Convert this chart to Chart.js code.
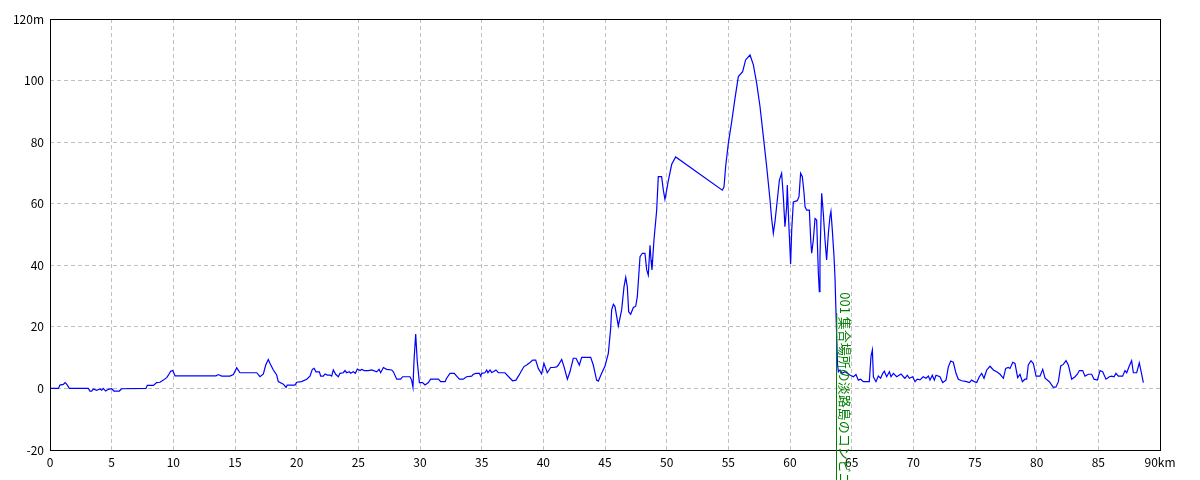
<!DOCTYPE html>
<html>
<head>
<meta charset="utf-8">
<script src="https://cdn.jsdelivr.net/npm/chart.js@4/dist/chart.umd.min.js"></script>
<style>
    body { margin: 0; background: #fff; }
    #wrap { width: 1200px; height: 480px; }
</style>
</head>
<body>
<div id="wrap"><canvas id="perfil"></canvas></div>
<script>
// dados do perfil (distancia em km, altitude em m)
const distancias = [
    0, 0.68, 0.81, 1.08, 1.22, 1.35, 1.57, 3.11, 3.24, 3.38, 3.51, 3.78, 4.05, 4.19, 4.32, 4.51, 4.73, 5.0, 5.19, 5.62, 5.81,
    7.78, 7.89, 8.38, 8.65, 8.92, 9.19, 9.46, 9.6, 9.78, 9.95, 10.14, 13.46, 13.65, 13.92, 14.59, 14.87, 15.14, 15.4, 16.76,
    17.03, 17.3, 17.49, 17.7, 17.84, 18.11, 18.38, 18.51, 18.92, 19.14, 19.24, 19.86, 20.0, 20.4, 20.81, 21.08, 21.27, 21.41,
    21.57, 21.84, 21.95, 22.16, 22.3, 22.49, 22.7, 22.84, 22.97, 23.16, 23.38, 23.51, 23.78, 23.92, 24.05, 24.27, 24.38, 24.59,
    24.76, 24.92, 25.14, 25.27, 25.49, 25.81, 26.08, 26.49, 26.68, 26.81, 27.03, 27.3, 27.7, 27.84, 28.11, 28.43, 28.59, 29.19,
    29.32, 29.43, 29.51, 29.65, 29.78, 29.95, 30.21, 30.41, 30.68, 30.86, 31.49, 31.68, 32.03, 32.16, 32.43, 32.78, 32.97,
    33.19, 33.51, 33.78, 34.19, 34.32, 34.54, 34.81, 34.92, 35.0, 35.27, 35.41, 35.51, 35.68, 35.81, 35.95, 36.16, 36.35,
    36.89, 37.3, 37.51, 37.78, 38.03, 38.24, 38.43, 38.65, 38.92, 39.14, 39.38, 39.59, 39.86, 40.05, 40.32, 40.59, 40.81,
    41.08, 41.22, 41.49, 41.68, 41.95, 42.16, 42.43, 42.65, 42.92, 43.11, 43.84, 44.05, 44.32, 44.46, 44.73, 45.0, 45.27,
    45.46, 45.54, 45.68, 45.81, 46.08, 46.35, 46.54, 46.68, 46.81, 46.92, 47.08, 47.3, 47.49, 47.62, 47.84, 48.03, 48.24,
    48.38, 48.51, 48.65, 48.73, 48.81, 48.97, 49.19, 49.32, 49.59, 49.73, 49.86, 50.0, 50.14, 50.41, 50.73, 54.51, 54.65,
    54.78, 55.0, 55.27, 55.54, 55.81, 56.16, 56.4, 56.76, 57.03, 57.3, 57.57, 57.84, 58.11, 58.38, 58.51, 58.65, 58.78,
    58.97, 59.14, 59.32, 59.46, 59.59, 59.73, 59.78, 59.89, 60.0, 60.05, 60.14, 60.27, 60.59, 60.73, 60.86, 61.0, 61.14,
    61.22, 61.35, 61.57, 61.68, 61.76, 61.89, 62.03, 62.16, 62.3, 62.38, 62.43, 62.57, 62.7, 62.84, 62.97, 63.11, 63.24,
    63.32, 63.43, 63.57, 63.65, 63.73, 63.78, 63.85, 63.92, 64.05, 64.2, 64.46, 64.86, 65.14, 65.35, 65.54, 65.73, 65.95,
    66.43, 66.57, 66.68, 66.76, 66.97, 67.16, 67.35, 67.52, 67.65, 67.84, 68.06, 68.19, 68.38, 68.65, 69.0, 69.19, 69.32,
    69.51, 69.68, 69.95, 70.14, 70.32, 70.54, 70.8, 71.03, 71.22, 71.35, 71.54, 71.7, 71.84, 72.16, 72.38, 72.65, 72.84,
    73.03, 73.24, 73.46, 73.65, 73.92, 74.32, 74.54, 74.73, 74.95, 75.14, 75.35, 75.54, 75.73, 75.95, 76.22, 76.49, 76.76,
    77.03, 77.3, 77.49, 77.7, 77.84, 78.06, 78.24, 78.46, 78.65, 78.84, 79.05, 79.19, 79.32, 79.54, 79.73, 79.95, 80.27,
    80.49, 80.68, 81.03, 81.35, 81.57, 81.76, 81.95, 82.16, 82.38, 82.57, 82.84, 83.11, 83.3, 83.46, 83.73, 83.92, 84.19,
    84.46, 84.65, 84.92, 85.14, 85.35, 85.62, 85.89, 86.08, 86.27, 86.43, 86.62, 86.97, 87.16, 87.3, 87.51, 87.7, 87.84,
    88.11, 88.32, 88.51, 88.65
]

const altitudes = [
    0, 0, 1.1, 1.3, 1.9, 1.4, 0, 0, -0.85, -0.85, -0.2, -0.6, -0.2, -0.6, 0, -0.85, -0.3, -0.1, -0.85, -0.85, -0.1,
    0, 1.0, 1.0, 1.9, 2.0, 2.7, 3.5, 4.3, 5.6, 5.8, 4.1, 4.1, 4.5, 4.0, 4.0, 4.5, 6.7, 5.1, 5.1,
    3.8, 4.7, 7.6, 9.4, 8.1, 6.0, 4.35, 2.2, 1.4, 0.35, 1.1, 1.1, 2.0, 2.2, 3.0, 4.0, 6.2, 6.5,
    5.4, 5.4, 4.0, 4.0, 4.7, 4.35, 4.35, 4.0, 6.0, 4.6, 3.8, 4.9, 5.1, 5.8, 5.1, 5.4, 4.9, 5.4,
    4.9, 6.3, 5.8, 6.2, 5.8, 5.8, 6.0, 5.4, 6.2, 5.1, 6.8, 6.2, 6.0, 5.4, 3.0, 3.0, 3.8, 3.8,
    2.7, 0.35, 8.7, 17.7, 8.7, 1.9, 1.9, 1.1, 1.9, 3.0, 3.0, 2.2, 2.2, 3.3, 4.9, 4.9, 4.0,
    3.0, 3.0, 3.8, 4.0, 4.6, 4.9, 4.9, 4.0, 4.9, 5.1, 6.0, 5.1, 6.0, 5.2, 5.4, 6.0, 5.1,
    5.1, 3.3, 2.5, 2.7, 4.3, 5.8, 7.1, 7.6, 8.4, 9.2, 9.2, 6.5, 4.7, 8.1, 5.1, 6.8, 6.8,
    7.0, 7.6, 9.4, 7.0, 3.0, 5.4, 9.8, 9.8, 7.6, 10.1, 10.1, 7.6, 2.7, 2.4, 4.9, 7.3, 11.4,
    19.5, 25.5, 27.3, 26.6, 20.3, 25.5, 33.0, 36.1, 33.0, 24.9, 24.1, 26.3, 26.7, 29.8, 42.8, 43.9, 43.9,
    38.5, 36.8, 46.5, 41.7, 38.5, 48.2, 57.9, 68.8, 68.8, 64.4, 61.4, 64.4, 67.6, 72.8, 75.2, 64.4, 65.5,
    72.0, 79.6, 86.6, 94.2, 101.3, 102.9, 106.7, 108.3, 105.1, 99.1, 91.5, 81.8, 72.0, 61.2, 55.2, 50.4, 54.1,
    61.2, 67.7, 69.9, 62.3, 52.5, 59.0, 66.1, 54.7, 45.0, 40.4, 51.5, 60.6, 61.0, 62.3, 69.9, 68.8, 63.4,
    59.0, 57.9, 57.9, 48.2, 43.9, 48.2, 55.2, 54.7, 37.3, 31.4, 42.8, 63.4, 56.9, 48.2, 41.7, 50.4, 55.8,
    57.5, 51.5, 42.8, 35.7, 24.4, 17.9, 8.0, 5.4, 6.0, 4.9, 5.4, 4.35, 3.8, 4.5, 2.7, 3.0, 2.2,
    2.2, 10.5, 12.5, 3.8, 2.2, 4.0, 3.3, 4.9, 5.6, 3.8, 5.4, 3.8, 4.9, 3.8, 4.7, 3.8, 3.3,
    4.3, 3.3, 3.8, 2.2, 3.0, 2.8, 3.8, 3.3, 4.0, 2.7, 4.3, 2.7, 4.3, 3.8, 1.9, 2.7, 7.0,
    8.9, 8.5, 4.9, 3.0, 2.5, 2.2, 1.9, 2.7, 2.2, 1.9, 3.8, 4.9, 3.3, 6.0, 7.2, 6.0, 5.4,
    4.6, 3.3, 6.5, 6.8, 6.5, 8.5, 8.1, 3.5, 4.6, 2.2, 3.0, 3.0, 7.6, 9.0, 8.1, 4.0, 4.0,
    6.2, 3.3, 2.2, 0.35, 0.5, 2.2, 7.3, 7.8, 9.0, 7.6, 3.0, 3.8, 4.6, 5.8, 5.8, 4.0, 4.6,
    4.6, 3.0, 2.7, 5.8, 5.4, 3.0, 3.8, 4.0, 3.8, 4.9, 4.0, 4.0, 5.8, 5.1, 7.3, 9.0, 5.1,
    5.1, 8.3, 4.7, 1.9
]

// ponto de passagem
const pontoKm = 63.73
const pontoAltitude = 24.4
const pontoNome = '001 集合場所の淡路島のコンビニ'

// rotulos dos eixos
const eixoX = { min: 0, max: 90, passo: 5, unidade: 'km' }
const eixoY = { min: -20, max: 120, passo: 20, unidade: 'm' }

const fonte = "'Noto Sans CJK JP', 'DejaVu Sans', sans-serif"

const pontos = []
for(let i = 0; i < distancias.length; i++){
    pontos.push({ x: distancias[i], y: altitudes[i] })
}

// fundo branco, moldura e marcador do ponto
const extras = {
    id: 'extras',
    beforeDraw(chart){
        const c = chart.ctx
        c.save()
        c.fillStyle = '#ffffff'
        c.fillRect(0, 0, chart.width, chart.height)
        c.restore()
    },
    afterDraw(chart){
        const c = chart.ctx
        const area = chart.chartArea
        const sx = chart.scales.x
        const sy = chart.scales.y

        c.save()
        c.strokeStyle = '#000000'
        c.lineWidth = 1
        c.strokeRect(area.left + 0.5, area.top + 0.5, area.right - area.left, area.bottom - area.top)

        const px = Math.round(sx.getPixelForValue(pontoKm)) + 0.5
        const py = sy.getPixelForValue(pontoAltitude)

        c.strokeStyle = '#008000'
        c.beginPath()
        c.moveTo(px, py)
        c.lineTo(px, chart.height)
        c.stroke()

        c.translate(px + 1.5, py - 21)
        c.rotate(Math.PI / 2)
        c.fillStyle = '#008000'
        c.font = '13px ' + fonte
        c.textBaseline = 'bottom'
        c.textAlign = 'left'
        c.fillText(pontoNome, 0, 0)
        c.restore()
    }
}

const ctx = document.getElementById('perfil')

new Chart(ctx, {
    type: 'line',
    data: {
        datasets: [{
            data: pontos,
            borderColor: '#0000ff',
            borderWidth: 1.2,
            pointRadius: 0,
            tension: 0,
            fill: false
        }]
    },
    options: {
        responsive: true,
        maintainAspectRatio: false,
        animation: false,
        events: [],
        layout: { padding: { top: 19, right: 40, left: 0, bottom: 0 } },
        plugins: {
            legend: { display: false },
            tooltip: { enabled: false }
        },
        scales: {
            x: {
                type: 'linear',
                min: eixoX.min,
                max: eixoX.max,
                afterFit(s){ s.height = 30 },
                grid: { color: '#c0c0c0', drawTicks: false },
                border: { display: false, dash: [4, 3] },
                ticks: {
                    stepSize: eixoX.passo,
                    maxRotation: 0,
                    autoSkip: false,
                    padding: 5,
                    color: '#000000',
                    font: { family: fonte, size: 12 },
                    callback: v => v === eixoX.max ? v + eixoX.unidade : v
                }
            },
            y: {
                min: eixoY.min,
                max: eixoY.max,
                afterFit(s){ s.width = 50 },
                grid: { color: '#c0c0c0', drawTicks: false },
                border: { display: false, dash: [4, 3] },
                ticks: {
                    stepSize: eixoY.passo,
                    padding: 6,
                    color: '#000000',
                    font: { family: fonte, size: 12 },
                    callback: v => v === eixoY.max ? v + eixoY.unidade : v
                }
            }
        }
    },
    plugins: [extras]
})
</script>
</body>
</html>
